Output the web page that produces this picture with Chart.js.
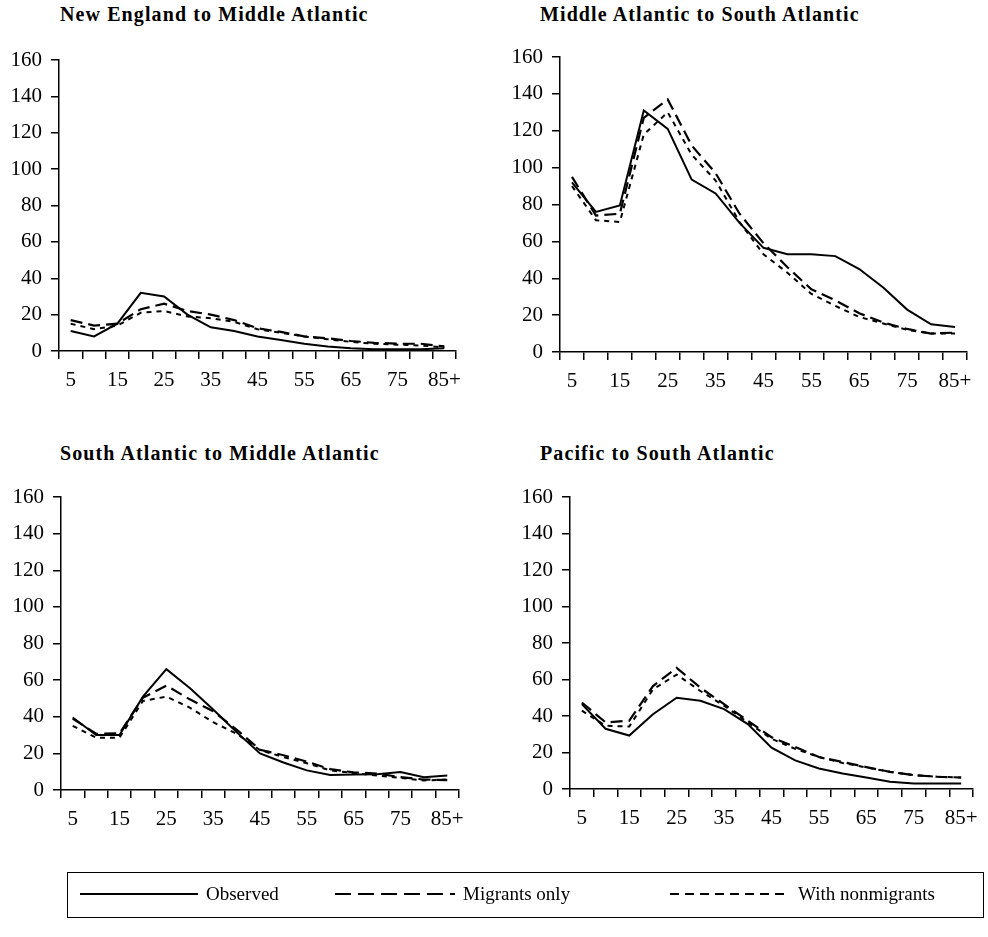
<!DOCTYPE html>
<html>
<head>
<meta charset="utf-8">
<script src="https://cdn.jsdelivr.net/npm/chart.js@4.4.1/dist/chart.umd.min.js"></script>
<style>
  body { margin: 0; background: #fff; font-family: "Liberation Serif", serif; }
  #pagina { position: relative; width: 988px; height: 937px; }
  .painel { position: absolute; width: 494px; height: 440px; }
  .painel canvas { position: absolute; left: 0; top: 0; }
  .titulo { position: absolute; font-weight: bold; font-size: 20px; letter-spacing: 1.1px; color: #000; white-space: nowrap; }
  #legenda {
    position: absolute; left: 67px; top: 872px; width: 917px; height: 46px;
    border: 1.5px solid #000; box-sizing: border-box; font-size: 19px;
  }
  .item { position: absolute; top: 10px; display: flex; align-items: center; }
  .item svg { margin-right: 8px; }
</style>
</head>
<body>
<div id="pagina">
  <div class="titulo" style="left:60px; top:3px;">New England to Middle Atlantic</div>
  <div class="titulo" style="left:540px; top:3px;">Middle Atlantic to South Atlantic</div>
  <div class="titulo" style="left:60px; top:442px;">South Atlantic to Middle Atlantic</div>
  <div class="titulo" style="left:540px; top:442px;">Pacific to South Atlantic</div>

  <div class="painel" style="left:0; top:0;"><canvas id="g1" width="494" height="440"></canvas></div>
  <div class="painel" style="left:494px; top:0;"><canvas id="g2" width="494" height="440"></canvas></div>
  <div class="painel" style="left:0; top:440px;"><canvas id="g3" width="494" height="440"></canvas></div>
  <div class="painel" style="left:494px; top:440px;"><canvas id="g4" width="494" height="440"></canvas></div>

  <div id="legenda">
    <div class="item" style="left:12px;">
      <svg width="118" height="4"><line x1="0" y1="2" x2="118" y2="2" stroke="#000" stroke-width="2"/></svg>Observed
    </div>
    <div class="item" style="left:267px;">
      <svg width="120" height="4"><line x1="0" y1="2" x2="120" y2="2" stroke="#000" stroke-width="2" stroke-dasharray="16 7"/></svg>Migrants only
    </div>
    <div class="item" style="left:602px;">
      <svg width="120" height="4"><line x1="0" y1="2" x2="120" y2="2" stroke="#000" stroke-width="2" stroke-dasharray="9 6"/></svg>With nonmigrants
    </div>
  </div>
</div>

<script>
// Categorias de idade (eixo x)
const idades = ['5', '10', '15', '20', '25', '30', '35', '40', '45', '50', '55', '60', '65', '70', '75', '80', '85+'];

// New England -> Middle Atlantic
const neObservado = [11, 8, 15, 32, 30, 20, 13, 11, 8, 6, 4, 2.5, 1.5, 1, 1, 1, 1.5];
const neMigrantes = [17, 14, 15, 23, 26, 22, 20, 17, 12.5, 10.5, 8, 7, 5.5, 4.5, 4, 4, 2.5];
const neComNaoMigrantes = [15, 12, 14, 21, 22, 19, 18, 16, 12, 10, 8, 6.5, 5, 4, 3.5, 3, 2];

// Middle Atlantic -> South Atlantic
const maObservado = [92, 76, 79.5, 131, 121, 93.5, 86, 70, 56.5, 53, 53, 52, 45, 35, 23, 15, 13.5];
const maMigrantes = [95, 74, 75, 127, 137, 112, 97, 75, 59, 46, 34, 28, 21, 16, 12.5, 10, 10.5];
const maComNaoMigrantes = [90, 71.5, 70.5, 118, 130, 107, 93, 70.5, 53, 43, 31.5, 25, 19, 15.5, 12, 10, 10];

// South Atlantic -> Middle Atlantic
const saObservado = [39.6, 30, 30, 51, 66, 55.7, 44, 31.6, 20, 15, 10.7, 8.2, 8.4, 8.6, 9.8, 7, 7.9];
const saMigrantes = [39, 30.7, 31, 50.4, 57, 49.5, 43, 33, 22, 19, 15.5, 11.4, 9.6, 9, 7, 5.7, 5.4];
const saComNaoMigrantes = [35, 28.6, 28.6, 48.6, 51, 45, 37, 30.7, 21.8, 18, 14.6, 10.7, 9.3, 7.9, 6.6, 5.2, 5.7];

// Pacific -> South Atlantic
const paObservado = [46.5, 33, 29.3, 41, 50, 48.3, 43.8, 35.6, 22.6, 15.7, 11.2, 8.5, 6.3, 4, 3, 3, 3];
const paMigrantes = [47.4, 36.5, 37.4, 56.4, 66.4, 55.5, 46.5, 37.4, 28.4, 23, 17.5, 14.8, 12, 9.4, 7.6, 6.7, 6.3];
const paComNaoMigrantes = [42.9, 34.7, 34.2, 54.6, 62.7, 53.7, 45.6, 36.5, 27.5, 22, 17.5, 14.3, 11.8, 9.4, 7.6, 6.7, 6.3];

// Eixo y
const yMin = 0;
const yMax = 160;
const yPasso = 20;

const fonte = { family: '"Liberation Serif", serif', size: 21 };
const canvasW = 494;
const canvasH = 440;

// area = posição da área do gráfico dentro do canvas
function criaPainel(id, observado, migrantes, comNaoMigrantes, area) {
  const ctx = document.getElementById(id).getContext('2d');
  return new Chart(ctx, {
    type: 'line',
    data: {
      labels: idades,
      datasets: [
        { label: 'With nonmigrants', data: comNaoMigrantes, borderColor: '#000', borderWidth: 2, borderDash: [5, 5] },
        { label: 'Migrants only', data: migrantes, borderColor: '#000', borderWidth: 2.2, borderDash: [12, 6] },
        { label: 'Observed', data: observado, borderColor: '#000', borderWidth: 2 }
      ]
    },
    options: {
      responsive: false,
      animation: false,
      elements: { point: { radius: 0 }, line: { tension: 0 } },
      layout: { padding: { top: area.top, right: canvasW - area.right, left: 0, bottom: 0 } },
      plugins: { legend: { display: false }, tooltip: { enabled: false } },
      scales: {
        x: {
          offset: true,
          grid: { offset: true, drawOnChartArea: false, tickLength: 8, color: '#000', lineWidth: 1.5 },
          border: { color: '#000', width: 1.5 },
          ticks: {
            autoSkip: false, maxRotation: 0, color: '#000', font: fonte, padding: 9,
            callback: (v, i) => (i % 2 === 0 ? idades[i] : '')
          },
          afterFit: (s) => { s.height = canvasH - area.bottom; }
        },
        y: {
          min: yMin,
          max: yMax,
          grid: { drawOnChartArea: false, tickLength: 8, color: '#000', lineWidth: 1.5 },
          border: { color: '#000', width: 1.5 },
          ticks: { stepSize: yPasso, color: '#000', font: fonte, padding: 9 },
          afterFit: (s) => { s.width = area.left; }
        }
      }
    }
  });
}

criaPainel('g1', neObservado, neMigrantes, neComNaoMigrantes, { left: 59, right: 456, top: 60, bottom: 351 });
criaPainel('g2', maObservado, maMigrantes, maComNaoMigrantes, { left: 66, right: 473, top: 57, bottom: 352 });
criaPainel('g3', saObservado, saMigrantes, saComNaoMigrantes, { left: 61, right: 459, top: 57, bottom: 350 });
criaPainel('g4', paObservado, paMigrantes, paComNaoMigrantes, { left: 76, right: 479, top: 57, bottom: 349 });
</script>
</body>
</html>
